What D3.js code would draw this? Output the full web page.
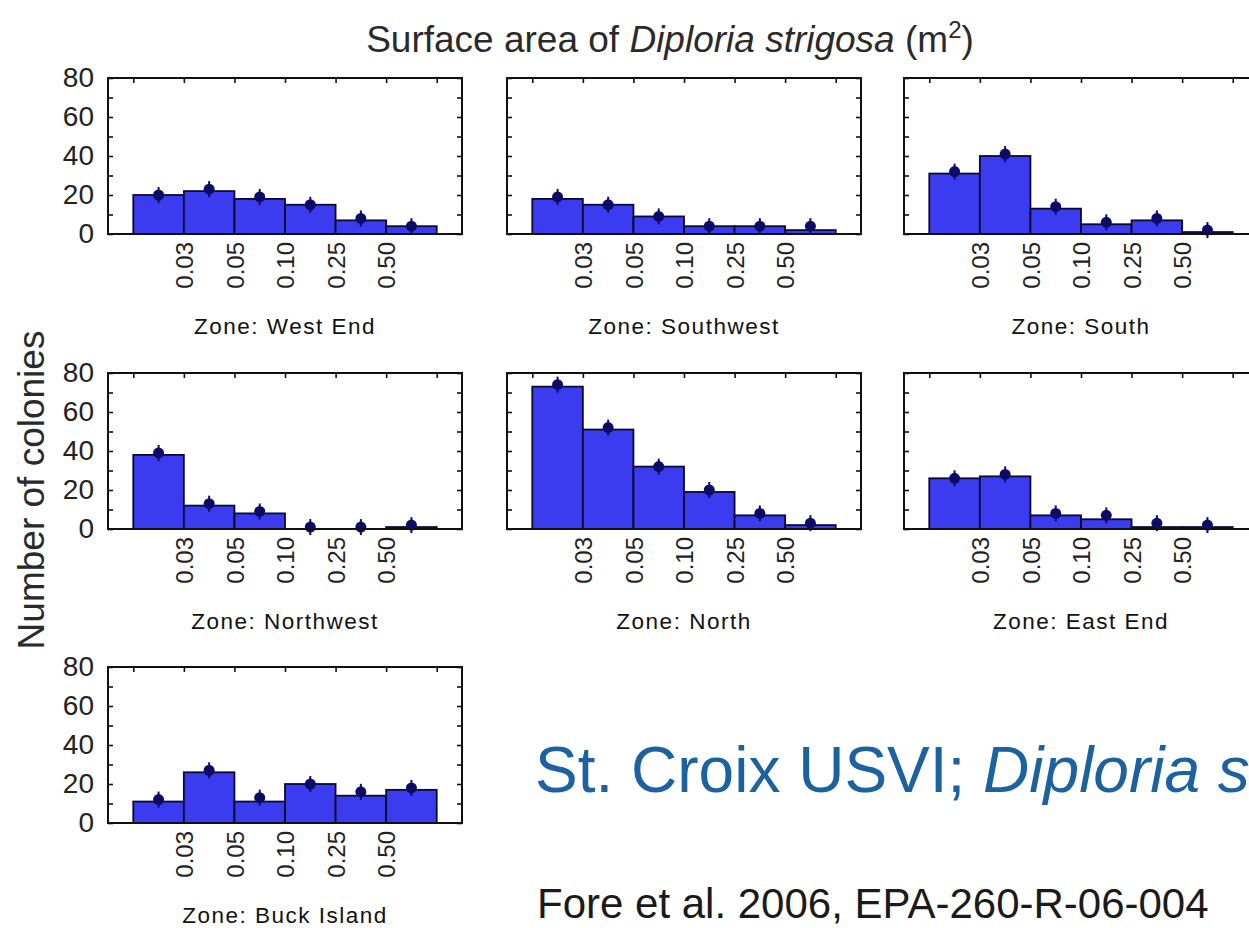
<!DOCTYPE html>
<html>
<head>
<meta charset="utf-8">
<script src="https://cdn.jsdelivr.net/npm/d3@7"></script>
<style>
  html, body { margin: 0; padding: 0; background: #fff; overflow: hidden; }
  svg { display: block; }
  text { font-family: "Liberation Sans", Arial, sans-serif; }
</style>
</head>
<body>
<svg id="chart" width="1249" height="928"></svg>
<script>
// ---- data ----
const zones = ["West End", "Southwest", "South", "Northwest", "North", "East End", "Buck Island"];
const binLabels = ["0.03", "0.05", "0.10", "0.25", "0.50"];
const yTickLabels = [0, 20, 40, 60, 80];

const westEndBars    = [20, 22, 18, 15, 7, 4];
const westEndPoints  = [20, 23, 19, 15, 8, 4];
const southwestBars  = [18, 15, 9, 4, 4, 2];
const southwestPoints= [19, 15, 9, 4, 4, 4];
const southBars      = [31, 40, 13, 5, 7, 1];
const southPoints    = [32, 41, 14, 6, 8, 2];
const northwestBars  = [38, 12, 8, 0, 0, 1];
const northwestPoints= [39, 13, 9, 1, 1, 2];
const northBars      = [73, 51, 32, 19, 7, 2];
const northPoints    = [74, 52, 32, 20, 8, 3];
const eastEndBars    = [26, 27, 7, 5, 1, 1];
const eastEndPoints  = [26, 28, 8, 7, 3, 2];
const buckBars       = [11, 26, 11, 20, 14, 17];
const buckPoints     = [12, 27, 13, 20, 16, 18];

const barSeries = [westEndBars, southwestBars, southBars, northwestBars, northBars, eastEndBars, buckBars];
const pointSeries = [westEndPoints, southwestPoints, southPoints, northwestPoints, northPoints, eastEndPoints, buckPoints];

// ---- layout ----
const svg = d3.select("#chart");
const colX = [108, 507, 904];
const rowY = [78, 373, 667];
const pw = 354, ph = 156;
const barFill = "#3b3bf0";
const ink = "#111";
const ptColor = "#0c0c66";

const x = d3.scaleLinear().domain([-0.5, 6.5]).range([0, pw]);
const y = d3.scaleLinear().domain([0, 80]).range([ph, 0]);

// Title
const title = svg.append("text")
  .attr("x", 670).attr("y", 52)
  .attr("text-anchor", "middle")
  .attr("font-size", 37)
  .attr("fill", "#2a2a2a");
title.append("tspan").text("Surface area of ");
title.append("tspan").attr("font-style", "italic").text("Diploria strigosa");
title.append("tspan").text(" (m");
title.append("tspan").attr("font-size", 24).attr("dy", -14).text("2");
title.append("tspan").attr("dy", 14).text(")");

// Y label
svg.append("text")
  .attr("transform", "translate(44,490) rotate(-90)")
  .attr("text-anchor", "middle")
  .attr("font-size", 37)
  .attr("fill", "#2a2a2a")
  .text("Number of colonies");

zones.forEach((zone, i) => {
  const col = i % 3, row = Math.floor(i / 3);
  const g = svg.append("g").attr("transform", `translate(${colX[col]},${rowY[row]})`);
  const bars = barSeries[i], pts = pointSeries[i];

  // bars
  g.selectAll("rect.bar").data(bars).join("rect")
    .attr("class", "bar")
    .attr("x", (d, j) => x(j))
    .attr("width", (d, j) => x(j + 1) - x(j))
    .attr("y", d => y(d))
    .attr("height", d => y(0) - y(d))
    .attr("fill", barFill)
    .attr("stroke", "#0a0a30")
    .attr("stroke-width", 1.8);

  // points with small whiskers
  const pg = g.selectAll("g.pt").data(pts).join("g").attr("class", "pt");
  pg.append("line")
    .attr("x1", (d, j) => x(j + 0.5)).attr("x2", (d, j) => x(j + 0.5))
    .attr("y1", d => y(d) - 8).attr("y2", d => y(d) + 8)
    .attr("stroke", ptColor).attr("stroke-width", 2);
  pg.append("circle")
    .attr("cx", (d, j) => x(j + 0.5))
    .attr("cy", d => y(d))
    .attr("r", 5.5)
    .attr("fill", ptColor);

  // inward ticks: left, right, top
  const tickStyle = sel => {
    sel.select(".domain").remove();
    sel.selectAll(".tick line").attr("stroke", ink).attr("stroke-width", 1.6);
    sel.selectAll(".tick text").remove();
  };
  g.append("g").call(d3.axisRight(y).tickValues(d3.range(0, 81, 10)).tickSize(5)).call(tickStyle);
  g.append("g").attr("transform", `translate(${pw},0)`)
    .call(d3.axisLeft(y).tickValues(d3.range(0, 81, 10)).tickSize(5)).call(tickStyle);
  g.append("g").call(d3.axisBottom(x).tickValues(d3.range(0, 7)).tickSize(5)).call(tickStyle);

  // frame
  g.append("rect").attr("x", 0).attr("y", 0).attr("width", pw).attr("height", ph)
    .attr("fill", "none").attr("stroke", ink).attr("stroke-width", 2);

  // y tick labels (first column only)
  if (col === 0) {
    const ya = g.append("g").call(d3.axisLeft(y).tickValues(yTickLabels).tickSize(0).tickPadding(14));
    ya.select(".domain").remove();
    ya.selectAll(".tick text")
      .attr("font-size", 28)
      .attr("font-family", "Liberation Sans, Arial, sans-serif")
      .attr("fill", "#222");
  }

  // x tick labels (rotated)
  const xa = g.append("g").attr("transform", `translate(0,${ph})`)
    .call(d3.axisBottom(x).tickValues([1, 2, 3, 4, 5]).tickSize(0).tickFormat((d, k) => binLabels[k]));
  xa.select(".domain").remove();
  xa.selectAll(".tick text")
    .attr("font-size", 24)
    .attr("font-family", "Liberation Sans, Arial, sans-serif")
    .attr("fill", "#222")
    .attr("text-anchor", "end")
    .attr("transform", "rotate(-90)")
    .attr("x", -8)
    .attr("y", 0)
    .attr("dy", "0.36em");

  // zone label
  g.append("text")
    .attr("x", pw / 2).attr("y", ph + 100)
    .attr("text-anchor", "middle")
    .attr("font-size", 22.5)
    .attr("letter-spacing", 1.5)
    .attr("fill", "#111")
    .text("Zone: " + zone);
});

// Bottom-right texts (the long heading runs off the right edge as in the reference)
const st = svg.append("text")
  .attr("x", 535).attr("y", 792)
  .attr("font-size", 64)
  .attr("fill", "#1d62a0");
st.append("tspan").text("St. Croix USVI; ");
st.append("tspan").attr("font-style", "italic").text("Diploria s");

svg.append("text")
  .attr("x", 537).attr("y", 918)
  .attr("font-size", 42)
  .attr("fill", "#1a1a1a")
  .text("Fore et al. 2006, EPA-260-R-06-004");
</script>
</body>
</html>
